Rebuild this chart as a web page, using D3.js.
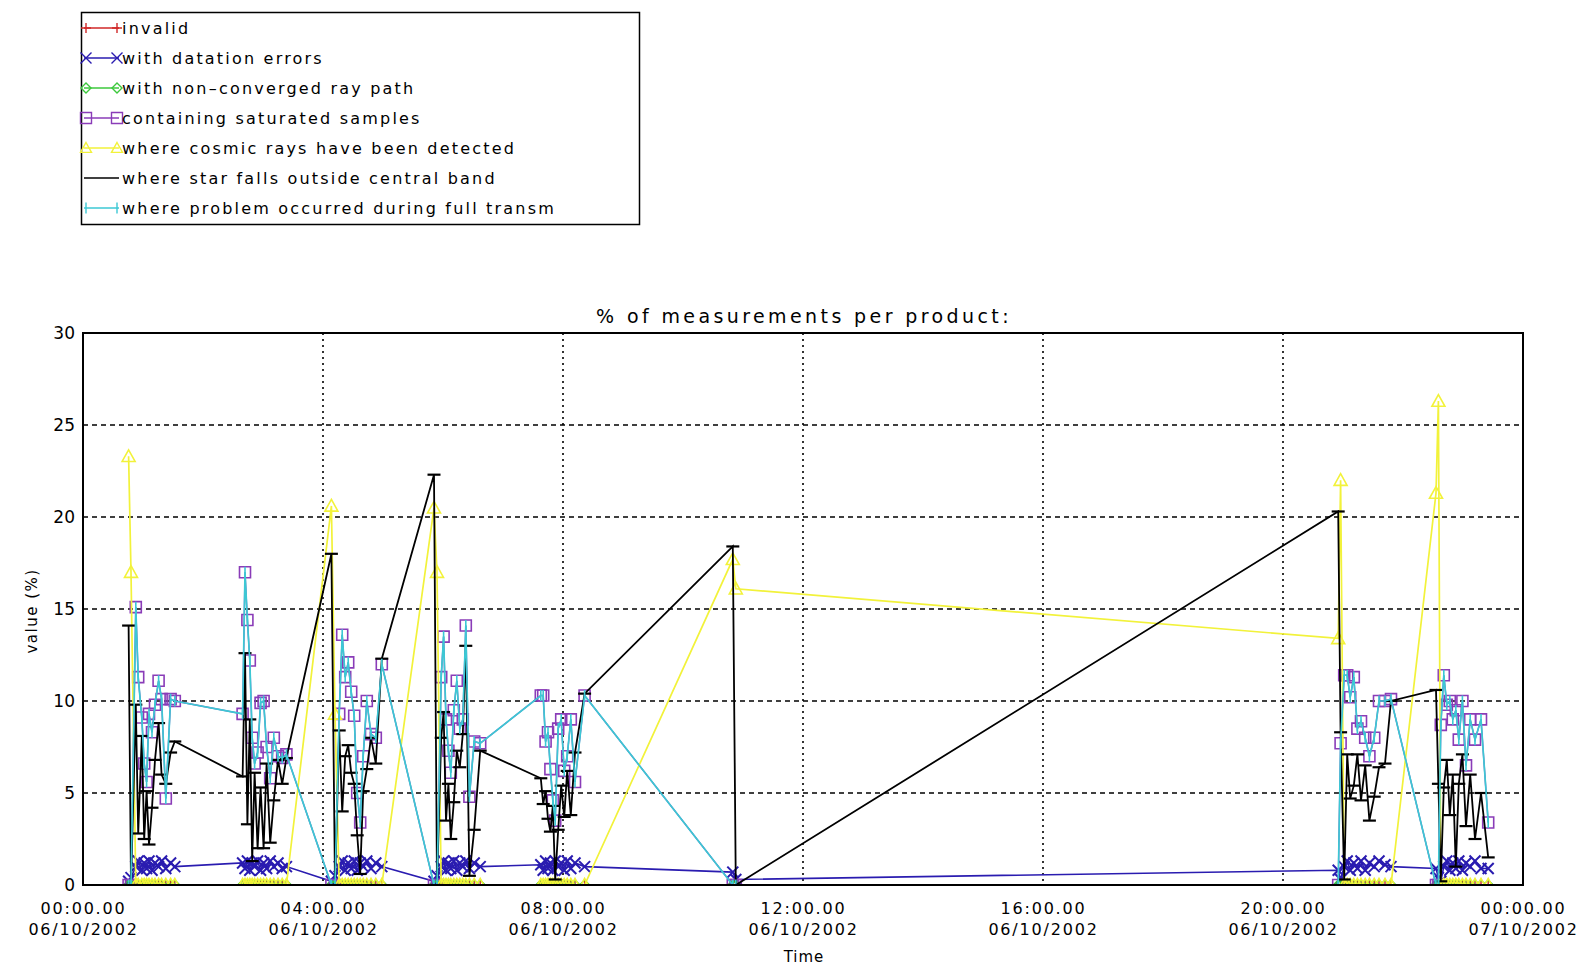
<!DOCTYPE html>
<html>
<head>
<meta charset="utf-8">
<script src="https://cdn.jsdelivr.net/npm/d3@7"></script>
<style>
body{margin:0;background:#fff;}
svg text{font-family:"DejaVu Sans",sans-serif;fill:#000;}
</style>
</head>
<body>
<div id="chart"></div>
<script>
// hours after 00:00 06/10/2002, one entry per product
var times=[
  0.76,0.80,0.88,0.92,0.98,1.02,1.06,1.10,1.15,1.20,1.26,1.31,1.38,1.46,1.53,
  2.66,2.70,2.74,2.78,2.82,2.86,2.91,2.96,3.01,3.06,3.12,3.18,3.25,3.32,3.39,
  4.14,4.20,4.27,4.32,4.37,4.42,4.47,4.52,4.57,4.62,4.67,4.73,4.80,4.88,4.98,
  5.85,5.90,5.97,6.01,6.05,6.09,6.13,6.18,6.23,6.28,6.33,6.38,6.44,6.52,6.62,
  7.63,7.67,7.71,7.75,7.79,7.83,7.87,7.92,7.97,8.02,8.07,8.13,8.20,8.36,
  10.83,10.88,
  20.92,20.96,21.02,21.07,21.12,21.18,21.24,21.30,21.37,21.44,21.52,21.60,21.70,21.80,
  22.55,22.59,22.63,22.68,22.73,22.78,22.83,22.88,22.93,22.99,23.05,23.12,23.20,23.30,23.42
];
var invalid=[
  0,0,0,0,0,0,0,0,0,0,0,0,0,0,0,
  0,0,0,0,0,0,0,0,0,0,0,0,0,0,0,
  0,0,0,0,0,0,0,0,0,0,0,0,0,0,0,
  0,0,0,0,0,0,0,0,0,0,0,0,0,0,0,
  0,0,0,0,0,0,0,0,0,0,0,0,0,0,
  0,0,
  0,0,0,0,0,0,0,0,0,0,0,0,0,0,
  0,0,0,0,0,0,0,0,0,0,0,0,0,0,0
];
var datation=[
  0.2,0.4,1.0,1.3,0.8,1.2,0.9,1.3,0.8,1.2,1.0,1.3,0.9,1.2,1.0,
  1.2,0.9,1.3,0.8,1.2,1.0,1.3,0.8,1.2,0.9,1.3,1.0,1.2,0.9,1.0,
  0.2,0.5,1.0,1.3,0.8,1.2,0.9,1.3,0.8,1.2,1.0,1.3,0.9,1.2,1.0,
  0.2,0.5,1.0,1.3,0.8,1.2,0.9,1.3,0.8,1.2,1.0,1.3,0.9,1.2,1.0,
  1.1,0.8,1.3,0.9,1.2,0.8,1.3,1.0,1.2,0.8,1.3,0.9,1.2,1.0,
  0.7,0.3,
  0.8,0.3,1.0,1.3,0.8,1.2,0.9,1.3,0.8,1.2,1.0,1.3,1.1,1.0,
  0.9,0.4,0.2,1.0,1.3,0.8,1.2,0.9,1.3,0.8,1.2,1.0,1.3,0.9,0.9
];
var nonconverged=[
  0,0,0,0,0,0,0,0,0,0,0,0,0,0,0,
  0,0,0,0,0,0,0,0,0,0,0,0,0,0,0,
  0,0,0,0,0,0,0,0,0,0,0,0,0,0,0,
  0,0,0,0,0,0,0,0,0,0,0,0,0,0,0,
  0,0,0,0,0,0,0,0,0,0,0,0,0,0,
  0,0,
  0,0,0,0,0,0,0,0,0,0,0,0,0,0,
  0,0,0,0,0,0,0,0,0,0,0,0,0,0,0
];
var saturated=[
  0,0,15.1,11.3,9.1,6.6,5.6,9.3,8.3,9.8,11.1,10.1,4.7,10.1,10.0,
  9.3,17.0,14.4,12.2,8.0,6.6,7.2,9.9,10.0,7.5,5.8,8.0,7.0,6.9,7.1,
  0,0,9.3,13.6,11.3,12.1,10.5,9.2,5.0,3.4,7.0,10.0,8.2,8.0,12.0,
  0,0,11.3,13.5,9.0,7.3,6.1,9.5,11.1,8.5,9.0,14.1,4.8,7.8,7.7,
  10.3,10.3,7.8,8.3,6.3,4.6,3.5,8.5,9.0,6.2,7.0,9.0,5.6,10.3,
  0,0,
  0,7.7,11.4,11.4,10.2,11.3,8.5,8.9,8.0,7.0,8.0,10.0,10.0,10.1,
  0,0,8.7,11.4,9.8,10.0,9.0,9.5,7.9,10.0,6.5,9.0,7.9,9.0,3.4
];
var cosmic=[
  23.3,17.0,0,0,0,0,0,0,0,0,0,0,0,0,0,
  0,0,0,0,0,0,0,0,0,0,0,0,0,0,0,
  20.6,9.3,0,0,0,0,0,0,0,0,0,0,0,0,0,
  20.5,17.0,0,0,0,0,0,0,0,0,0,0,0,0,0,
  0,0,0,0,0,0,0,0,0,0,0,0,0,0,
  17.7,16.1,
  13.4,22.0,0,0,0,0,0,0,0,0,0,0,0,0,
  21.3,26.3,0,0,0,0,0,0,0,0,0,0,0,0,0
];
var starband=[
  14.1,0.0,9.8,2.8,8.1,2.5,5.1,2.2,4.2,6.8,8.8,6.0,5.5,7.2,7.8,
  5.9,12.6,3.3,9.0,1.3,6.1,2.0,5.3,2.0,6.6,2.3,4.6,6.8,5.5,6.9,
  18.0,0.0,8.4,4.0,7.0,7.6,6.1,5.5,2.7,0.6,5.1,6.3,8.0,6.6,12.3,
  22.3,0.0,8.0,9.4,3.5,5.5,2.5,4.5,7.3,6.4,8.2,13.0,0.5,3.0,7.3,
  5.8,4.4,5.1,3.6,2.9,4.3,0.3,3.0,5.4,3.7,6.2,3.8,7.2,10.4,
  18.4,0.0,
  20.3,8.3,0.3,7.1,4.7,5.4,7.1,4.6,6.5,3.5,4.8,6.4,6.6,10.0,
  10.6,5.5,0.2,5.3,6.8,3.8,6.0,1.0,5.5,7.1,3.2,6.0,2.5,5.0,1.5
];
var transm=[
  0,0,15.1,11.3,9.1,6.6,5.6,9.3,8.3,9.8,11.1,10.1,4.7,10.1,10.0,
  9.3,17.0,14.4,12.2,8.0,6.6,7.2,9.9,10.0,7.5,5.8,8.0,7.0,6.9,7.1,
  0,0,9.3,13.6,11.3,12.1,10.5,9.2,5.0,3.4,7.0,10.0,8.2,8.0,12.0,
  0,0,11.3,13.5,9.0,7.3,6.1,9.5,11.1,8.5,9.0,14.1,4.8,7.8,7.7,
  10.3,10.3,7.8,8.3,6.3,4.6,3.5,8.5,9.0,6.2,7.0,9.0,5.6,10.3,
  0,0,
  0,7.7,11.4,11.4,10.2,11.3,8.5,8.9,8.0,7.0,8.0,10.0,10.0,10.1,
  0,0,8.7,11.4,9.8,10.0,9.0,9.5,7.9,10.0,6.5,9.0,7.9,9.0,3.4
];

var seriesNames=['invalid','with datation errors','with non\u2013converged ray path',
  'containing saturated samples','where cosmic rays have been detected',
  'where star falls outside central band','where problem occurred during full transm'];
var yTicks=[0,5,10,15,20,25,30];
var xTicks=[0,4,8,12,16,20,24];
var xTickTimes=['00:00.00','04:00.00','08:00.00','12:00.00','16:00.00','20:00.00','00:00.00'];
var xTickDates=['06/10/2002','06/10/2002','06/10/2002','06/10/2002','06/10/2002','06/10/2002','07/10/2002'];

var svgwidth=1594, svgheight=967;
var pleft=83, pright=1523, ptop=333, pbottom=885;

var series=[
  {values:invalid,      color:'#d02828', sym:'plus',     size:5,   lw:1.3, sw:1.4},
  {values:datation,     color:'#2a1cb0', sym:'cross',    size:5.5, lw:1.6, sw:2},
  {values:nonconverged, color:'#3cc83c', sym:'diamond',  size:5,   lw:1.6, sw:1.4},
  {values:saturated,    color:'#8a3cb8', sym:'square',   size:5.5, lw:1.4, sw:1.6},
  {values:cosmic,       color:'#f2f23a', sym:'triangle', size:6.5, lw:1.7, sw:1.6},
  {values:starband,     color:'#000000', sym:'hbar',     size:6.5, lw:1.8, sw:2.2},
  {values:transm,       color:'#3cc8d4', sym:'vbar',     size:5.5, lw:1.7, sw:1.6}
];

var xscale=d3.scaleLinear().domain([0,24]).range([pleft,pright]);
var yscale=d3.scaleLinear().domain([0,30]).range([pbottom,ptop]);

var svg=d3.select('#chart').append('svg').attr('width',svgwidth).attr('height',svgheight);

svg.append('defs').append('clipPath').attr('id','plotclip').append('rect')
   .attr('x',pleft).attr('y',ptop).attr('width',pright-pleft).attr('height',pbottom-ptop);

function symbolPath(sym,x,y,s){
  if(sym=='plus') return 'M'+(x-s)+','+y+'H'+(x+s)+'M'+x+','+(y-s)+'V'+(y+s);
  if(sym=='cross') return 'M'+(x-s)+','+(y-s)+'L'+(x+s)+','+(y+s)+'M'+(x-s)+','+(y+s)+'L'+(x+s)+','+(y-s);
  if(sym=='diamond') return 'M'+x+','+(y-s)+'L'+(x+s)+','+y+'L'+x+','+(y+s)+'L'+(x-s)+','+y+'Z';
  if(sym=='square') return 'M'+(x-s)+','+(y-s)+'H'+(x+s)+'V'+(y+s)+'H'+(x-s)+'Z';
  if(sym=='triangle') return 'M'+x+','+(y-s)+'L'+(x+s)+','+(y+s*0.8)+'L'+(x-s)+','+(y+s*0.8)+'Z';
  if(sym=='hbar') return 'M'+(x-s)+','+y+'H'+(x+s);
  if(sym=='vbar') return 'M'+x+','+(y-s)+'V'+(y+s);
  return '';
}

// grid
svg.append('g').selectAll('line')
   .data(yTicks.filter(function(d){return d>0&&d<30}))
   .enter().append('line')
   .attr('x1',pleft).attr('x2',pright)
   .attr('y1',function(d){return yscale(d)}).attr('y2',function(d){return yscale(d)})
   .attr('stroke','#000').attr('stroke-width',1.6).attr('stroke-dasharray','5,4');

svg.append('g').selectAll('line')
   .data(xTicks.filter(function(d){return d>0&&d<24}))
   .enter().append('line')
   .attr('y1',ptop).attr('y2',pbottom)
   .attr('x1',function(d){return xscale(d)}).attr('x2',function(d){return xscale(d)})
   .attr('stroke','#000').attr('stroke-width',1.6).attr('stroke-dasharray','2,4');

// data
var plot=svg.append('g').attr('clip-path','url(#plotclip)');
var idx=d3.range(times.length);

series.forEach(function(s){
  plot.append('path')
      .datum(idx)
      .attr('d',d3.line()
         .x(function(i){return xscale(times[i])})
         .y(function(i){return yscale(s.values[i])}))
      .attr('fill','none')
      .attr('stroke',s.color)
      .attr('stroke-width',s.lw);

  plot.append('g').selectAll('path')
      .data(idx).enter().append('path')
      .attr('d',function(i){return symbolPath(s.sym,xscale(times[i]),yscale(s.values[i]),s.size)})
      .attr('fill','none')
      .attr('stroke',s.color)
      .attr('stroke-width',s.sw);
});

// frame
svg.append('rect')
   .attr('x',pleft).attr('y',ptop).attr('width',pright-pleft).attr('height',pbottom-ptop)
   .attr('fill','none').attr('stroke','#000').attr('stroke-width',2);

// axes
var yaxis=svg.append('g').attr('transform','translate('+pleft+',0)')
   .call(d3.axisLeft(yscale).tickValues(yTicks).tickSize(0).tickPadding(8).tickFormat(d3.format('d')));
yaxis.select('.domain').remove();
yaxis.selectAll('text').style('font-size','17px').style('font-family','DejaVu Sans');

var xaxis=svg.append('g').attr('transform','translate(0,'+pbottom+')')
   .call(d3.axisBottom(xscale).tickValues(xTicks).tickSize(0).tickFormat(''));
xaxis.select('.domain').remove();
xaxis.selectAll('.tick').each(function(d,i){
  var t=d3.select(this).append('text').attr('fill','#000')
        .style('font-size','16px').style('letter-spacing','1.8px')
        .attr('text-anchor','middle');
  t.append('tspan').attr('x',0).attr('y',29).text(xTickTimes[i]);
  t.append('tspan').attr('x',0).attr('y',50).text(xTickDates[i]);
});

svg.append('text').attr('x',804).attr('y',962).attr('text-anchor','middle')
   .style('font-size','15px').style('letter-spacing','1px').text('Time');

svg.append('text').attr('transform','translate(37,611) rotate(-90)')
   .attr('text-anchor','middle')
   .style('font-size','15px').style('letter-spacing','1.5px').text('value (%)');

svg.append('text').attr('x',804).attr('y',323).attr('text-anchor','middle')
   .style('font-size','19px').style('letter-spacing','3.4px')
   .text('% of measurements per product:');

// legend
var legend=svg.append('g');
legend.append('rect').attr('x',81.5).attr('y',12.5).attr('width',558).attr('height',212)
      .attr('fill','#fff').attr('stroke','#000').attr('stroke-width',1.5);

series.forEach(function(s,i){
  var cy=28+i*30;
  legend.append('line').attr('x1',84).attr('x2',119).attr('y1',cy).attr('y2',cy)
        .attr('stroke',s.color).attr('stroke-width',1.5);
  if(s.sym!='hbar'){
    [86,117].forEach(function(x){
      legend.append('path').attr('d',symbolPath(s.sym,x,cy,Math.min(s.size,5.5)))
            .attr('fill','none').attr('stroke',s.color).attr('stroke-width',1.4);
    });
  }
  legend.append('text').attr('x',122).attr('y',cy+6)
        .style('font-size','16px').style('letter-spacing','2.2px')
        .text(seriesNames[i]);
});
</script>
</body>
</html>
